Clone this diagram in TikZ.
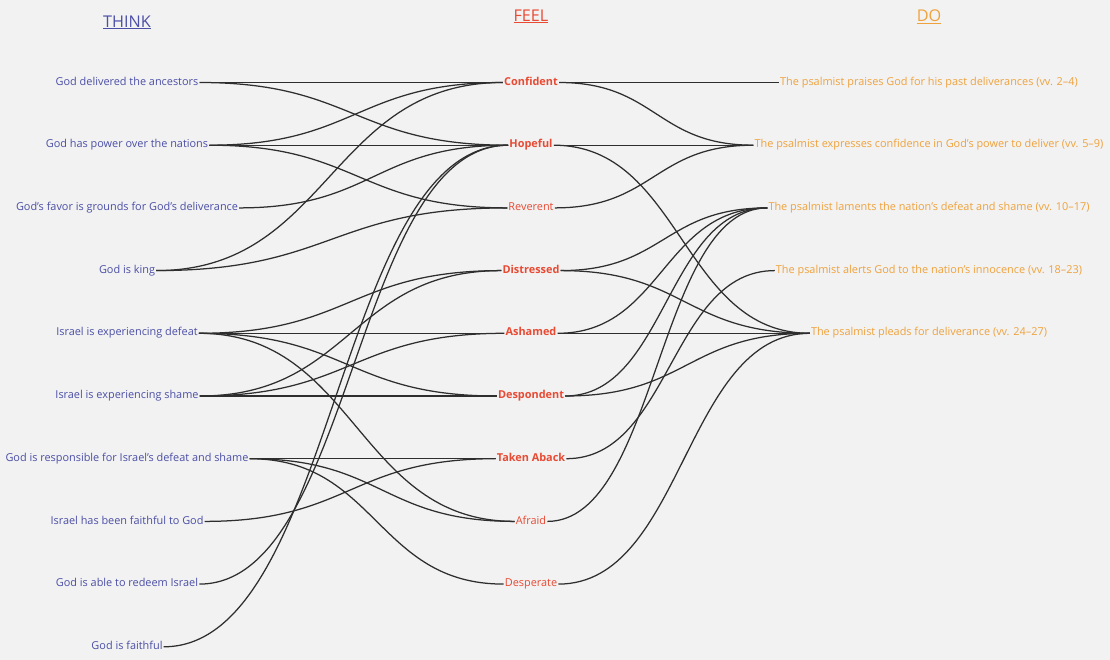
\documentclass[tikz,border=0pt]{standalone}
\usepackage{fontspec}
\setmainfont{Open Sans}
\usepackage{xcolor}
\usepackage{tikz}
\usetikzlibrary{calc}
\definecolor{thinkblue}{HTML}{4B4FA6}
\definecolor{feelred}{HTML}{E84A33}
\definecolor{doorange}{HTML}{EFA23C}
\definecolor{bggray}{HTML}{F2F2F2}
\definecolor{linkgray}{HTML}{2E2E2E}
\tikzset{
  label text/.style={inner sep=1pt, text height=7.5pt, text depth=2.2pt, font=\fontsize{10.9}{13}\selectfont},
  think/.style={label text, text=thinkblue},
  feel/.style={label text, text=feelred},
  feelbold/.style={label text, text=feelred, font=\fontsize{10.9}{13}\selectfont\bfseries},
  doing/.style={label text, text=doorange},
  heading/.style={inner sep=1pt, font=\fontsize{16.2}{18}\selectfont},
  link/.style={draw=linkgray, line width=1.25pt,
    to path={let \p1=(\tikztostart), \p2=(\tikztotarget) in
      .. controls ({0.5*\x1+0.5*\x2},\y1) and ({0.5*\x1+0.5*\x2},\y2) .. (\tikztotarget)}}
}
\begin{document}
\begin{tikzpicture}[x=1pt,y=-1pt]
\fill[bggray] (0,0) rectangle (1110,660);
\node[heading, text=thinkblue] (think) at (127,22.5) {\underline{THINK}};
\node[heading, text=feelred] (feel) at (531,16.5) {\underline{FEEL}};
\node[heading, text=doorange] (do) at (929,16.5) {\underline{DO}};

\foreach \name/\txt [count=\i] in {anc/God delivered the ancestors, pow/God has power over the nations,
  fav/God's favor is grounds for God's deliverance, king/God is king, defeat/Israel is experiencing defeat,
  shame/Israel is experiencing shame, resp/God is responsible for Israel's defeat and shame,
  faith/Israel has been faithful to God, redeem/God is able to redeem Israel, gfaith/God is faithful}
  \node[think] (\name) at (127,{82.5+62.7*(\i-1)}) {\txt};

\foreach \name/\st/\txt [count=\i] in {conf/feelbold/Confident, hope/feelbold/Hopeful, rev/feel/Reverent,
  dist/feelbold/Distressed, ash/feelbold/Ashamed, desp/feelbold/Despondent, taken/feelbold/Taken Aback,
  afraid/feel/Afraid, desper/feel/Desperate}
  \node[\st] (\name) at (531,{82.5+62.7*(\i-1)}) {\txt};

\foreach \name/\txt [count=\i] in {praise/The psalmist praises God for his past deliverances (vv. 2--4),
  express/The psalmist expresses confidence in God's power to deliver (vv. 5--9),
  lament/The psalmist laments the nation's defeat and shame (vv. 10--17),
  alert/The psalmist alerts God to the nation's innocence (vv. 18--23),
  plead/The psalmist pleads for deliverance (vv. 24--27)}
  \node[doing] (\name) at (929,{82.5+62.7*(\i-1)}) {\txt};

\foreach \a/\b in {anc/conf, anc/hope, pow/conf, pow/hope, pow/rev, fav/hope, king/conf, king/rev,
  defeat/dist, defeat/ash, defeat/desp, defeat/afraid, shame/dist, shame/ash, shame/desp,
  resp/taken, resp/afraid, resp/desper, faith/taken, redeem/hope, gfaith/hope}
  \draw[link] (\a.east) to (\b.west);

\foreach \a/\b in {conf/praise, conf/express, hope/express, hope/plead, rev/express, dist/lament,
  dist/plead, ash/lament, ash/plead, desp/lament, desp/plead, taken/alert, afraid/lament, desper/plead}
  \draw[link] (\a.east) to (\b.west);
\end{tikzpicture}
\end{document}
